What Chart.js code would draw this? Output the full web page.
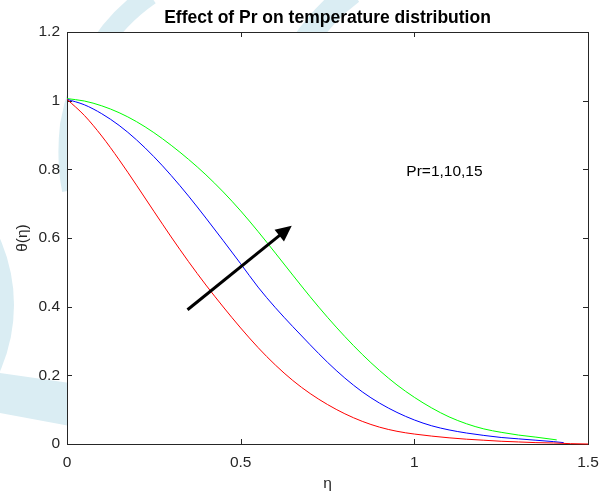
<!DOCTYPE html>
<html lang="en">
<head>
<meta charset="UTF-8">
<title>Effect of Pr on temperature distribution</title>
<script src="https://cdn.jsdelivr.net/npm/chart.js@4.4.1/dist/chart.umd.min.js"></script>
<style>
  html, body { margin: 0; padding: 0; background: #fff; }
  canvas { display: block; }
</style>
</head>
<body>
<canvas id="chart" width="608" height="495"></canvas>
<script>
// eta grid shared by the three curves
const eta = [0, 0.05, 0.1, 0.15, 0.2, 0.25, 0.3, 0.35, 0.4, 0.45, 0.5, 0.55, 0.6, 0.65,
             0.7, 0.75, 0.8, 0.85, 0.9, 0.95, 1.0, 1.05, 1.1, 1.15, 1.2, 1.25, 1.3, 1.35];

// Pr = 1 (red)
const thetaPr1 = [1.004, 0.957, 0.897, 0.828, 0.754, 0.678, 0.603, 0.531, 0.463, 0.399, 0.338, 0.281, 0.230, 0.185,
                  0.147, 0.115, 0.088, 0.066, 0.049, 0.037, 0.029, 0.023, 0.018, 0.014, 0.011, 0.008, 0.006, 0.004];
const tailEtaPr1 = [1.4, 1.45, 1.5];
const tailThetaPr1 = [0.003, 0.001, 0];

// Pr = 10 (blue)
const thetaPr10 = [1.004, 0.988, 0.962, 0.928, 0.886, 0.837, 0.782, 0.722, 0.658, 0.592, 0.525, 0.457, 0.397, 0.342,
                   0.289, 0.238, 0.192, 0.152, 0.119, 0.092, 0.070, 0.053, 0.041, 0.032, 0.025, 0.019, 0.015, 0.011];
const tailEtaPr10 = [1.4, 1.43];
const tailThetaPr10 = [0.007, 0.004];

// Pr = 15 (green)
const thetaPr15 = [1.006, 0.999, 0.985, 0.965, 0.939, 0.907, 0.870, 0.829, 0.784, 0.734, 0.679, 0.619, 0.556, 0.492,
                   0.429, 0.369, 0.313, 0.261, 0.214, 0.172, 0.136, 0.105, 0.079, 0.059, 0.044, 0.034, 0.026, 0.020];
const tailEtaPr15 = [1.41];
const tailThetaPr15 = [0.012];

const xTicks = [0, 0.5, 1, 1.5];
const yTicks = [0, 0.2, 0.4, 0.6, 0.8, 1, 1.2];

// annotation: arrow (eta, theta) and label
const arrowFrom = [0.347, 0.391];
const arrowTo = [0.647, 0.636];
const noteText = 'Pr=1,10,15';
const notePos = [0.977, 0.793];

const FONT = '"Liberation Sans", Arial, Helvetica, sans-serif';
const AXIS = '#262626';
const WATERMARK = '#daedf3';

function points(xs, ys, tx, ty) {
  const all = ys.concat(ty);
  return xs.concat(tx).map((x, i) => ({ x: x, y: all[i] }));
}

// white page, faint logo watermark, white plot box, then axes box with inward ticks
const frame = {
  id: 'frame',
  beforeDraw(chart) {
    const ctx = chart.ctx, a = chart.chartArea;
    ctx.save();
    ctx.fillStyle = '#fff';
    ctx.fillRect(0, 0, chart.width, chart.height);

    ctx.strokeStyle = WATERMARK;
    ctx.fillStyle = WATERMARK;
    ctx.lineWidth = 20;
    ctx.beginPath();
    ctx.moveTo(150, -5);
    ctx.quadraticCurveTo(85, 40, 70, 125);
    ctx.quadraticCurveTo(66, 160, 72, 190);
    ctx.stroke();

    ctx.lineWidth = 24;
    ctx.beginPath();
    ctx.moveTo(352, -8);
    ctx.quadraticCurveTo(325, 12, 302, 45);
    ctx.stroke();

    ctx.beginPath();
    ctx.arc(-150, 305, 164, 0, Math.PI * 2);
    ctx.fill();

    ctx.beginPath();
    ctx.moveTo(0, 373);
    ctx.lineTo(70, 383);
    ctx.lineTo(70, 426);
    ctx.lineTo(0, 413);
    ctx.closePath();
    ctx.fill();

    ctx.fillStyle = '#fff';
    ctx.fillRect(a.left, a.top, a.right - a.left, a.bottom - a.top);
    ctx.restore();
  },
  beforeDatasetsDraw(chart) {
    const ctx = chart.ctx, a = chart.chartArea;
    const xs = chart.scales.x, ys = chart.scales.y;
    ctx.save();
    ctx.strokeStyle = AXIS;
    ctx.lineWidth = 1;
    ctx.strokeRect(a.left + 0.5, a.top + 0.5, a.right - a.left, a.bottom - a.top);
    ctx.beginPath();
    xTicks.forEach(v => {
      const px = Math.round(xs.getPixelForValue(v)) + 0.5;
      ctx.moveTo(px, a.bottom); ctx.lineTo(px, a.bottom - 5);
      ctx.moveTo(px, a.top); ctx.lineTo(px, a.top + 5);
    });
    yTicks.forEach(v => {
      const py = Math.round(ys.getPixelForValue(v)) + 0.5;
      ctx.moveTo(a.left, py); ctx.lineTo(a.left + 5, py);
      ctx.moveTo(a.right, py); ctx.lineTo(a.right - 5, py);
    });
    ctx.stroke();
    ctx.restore();
  },
  afterDatasetsDraw(chart) {
    const ctx = chart.ctx;
    const xs = chart.scales.x, ys = chart.scales.y;
    const x0 = xs.getPixelForValue(arrowFrom[0]), y0 = ys.getPixelForValue(arrowFrom[1]);
    const x1 = xs.getPixelForValue(arrowTo[0]), y1 = ys.getPixelForValue(arrowTo[1]);
    const ang = Math.atan2(y1 - y0, x1 - x0);
    const headLen = 16, headHalf = 7.5;
    const bx = x1 - headLen * Math.cos(ang), by = y1 - headLen * Math.sin(ang);
    ctx.save();
    ctx.strokeStyle = '#000';
    ctx.fillStyle = '#000';
    ctx.lineWidth = 3;
    ctx.beginPath();
    ctx.moveTo(x0, y0);
    ctx.lineTo(bx + 2 * Math.cos(ang), by + 2 * Math.sin(ang));
    ctx.stroke();
    ctx.beginPath();
    ctx.moveTo(x1, y1);
    ctx.lineTo(bx + headHalf * Math.sin(ang), by - headHalf * Math.cos(ang));
    ctx.lineTo(bx - headHalf * Math.sin(ang), by + headHalf * Math.cos(ang));
    ctx.closePath();
    ctx.fill();

    ctx.font = '15.5px ' + FONT;
    ctx.textAlign = 'left';
    ctx.textBaseline = 'middle';
    ctx.fillText(noteText, xs.getPixelForValue(notePos[0]), ys.getPixelForValue(notePos[1]));
    ctx.restore();
  }
};

Chart.defaults.font.family = FONT;
Chart.defaults.font.size = 15.5;
Chart.defaults.color = AXIS;

const line = (label, data, color) => ({
  label: label,
  data: data,
  borderColor: color,
  backgroundColor: color,
  borderWidth: 1,
  pointRadius: 0,
  fill: false,
  cubicInterpolationMode: 'monotone'
});

new Chart(document.getElementById('chart'), {
  type: 'line',
  data: {
    datasets: [
      line('Pr=1', points(eta, thetaPr1, tailEtaPr1, tailThetaPr1), '#ff0000'),
      line('Pr=10', points(eta, thetaPr10, tailEtaPr10, tailThetaPr10), '#0000ff'),
      line('Pr=15', points(eta, thetaPr15, tailEtaPr15, tailThetaPr15), '#00ff00')
    ]
  },
  options: {
    responsive: false,
    animation: false,
    clip: false,
    layout: { padding: { left: 0, right: 20, top: 0, bottom: 0 } },
    plugins: {
      legend: { display: false },
      tooltip: { enabled: false },
      title: {
        display: true,
        text: 'Effect of Pr on temperature distribution',
        color: '#000',
        fullSize: false,
        font: { size: 17.5, weight: 'bold' },
        padding: { top: 8, bottom: 3 }
      }
    },
    scales: {
      x: {
        type: 'linear',
        min: 0,
        max: 1.5,
        afterBuildTicks: s => { s.ticks = xTicks.map(v => ({ value: v })); },
        afterFit: s => { s.height = 51; },
        grid: { display: false, drawTicks: false },
        border: { display: false },
        ticks: { padding: 9, maxRotation: 0, color: AXIS, callback: v => String(v) },
        title: { display: true, text: 'η', color: AXIS, padding: { top: 0, bottom: 2 } }
      },
      y: {
        min: 0,
        max: 1.2,
        afterBuildTicks: s => { s.ticks = yTicks.map(v => ({ value: v })); },
        afterFit: s => { s.width = 67; },
        grid: { display: false, drawTicks: false },
        border: { display: false },
        ticks: { padding: 7, color: AXIS, callback: v => String(v) },
        title: { display: true, text: 'θ(η)', color: AXIS, padding: { top: 13, bottom: 0 } }
      }
    }
  },
  plugins: [frame]
});
</script>
</body>
</html>
